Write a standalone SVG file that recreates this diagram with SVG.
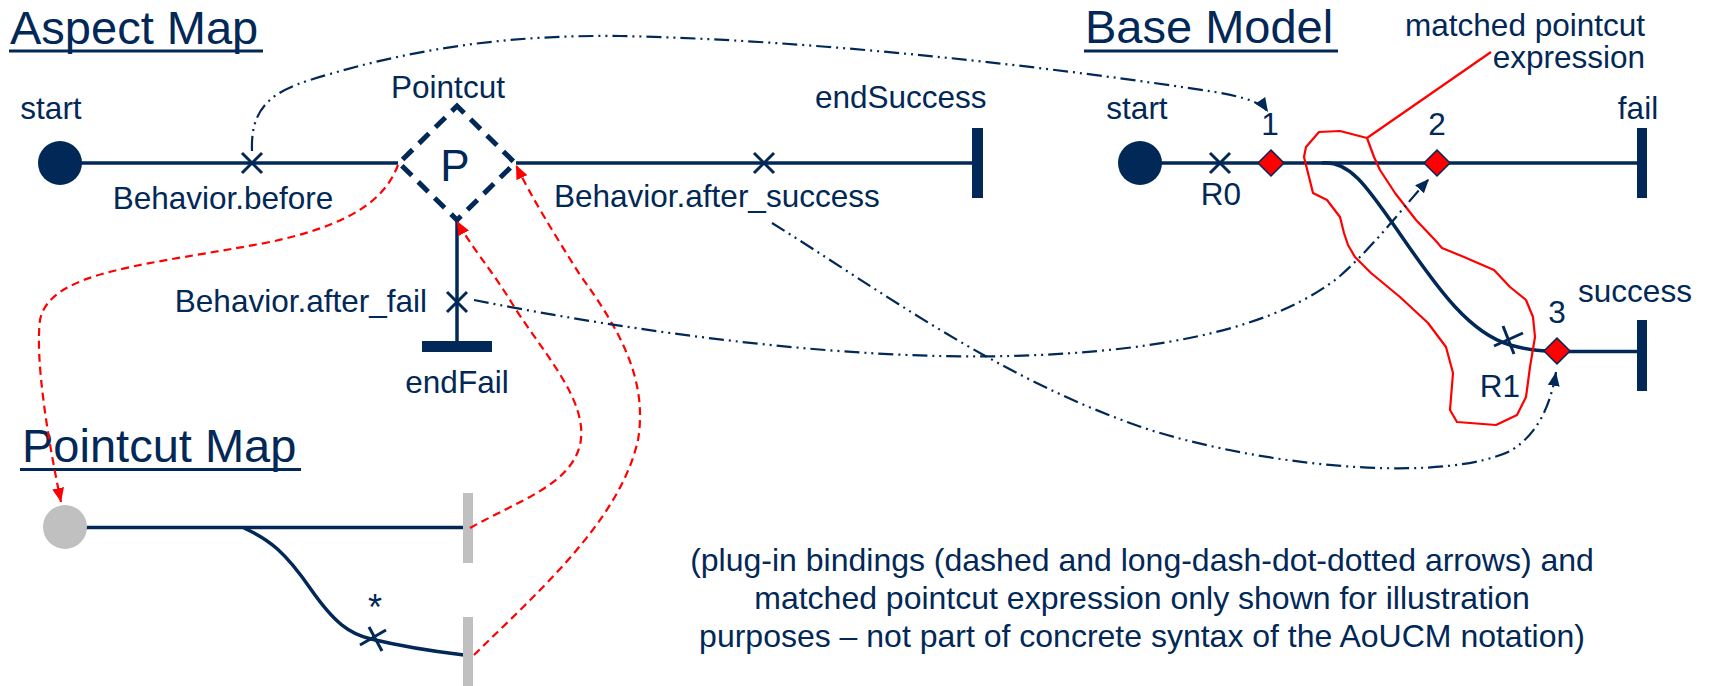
<svg xmlns="http://www.w3.org/2000/svg" width="1709" height="686" viewBox="0 0 1709 686">
  <style>
    text { font-family: "Liberation Sans", Arial, sans-serif; fill: #012856; }
    .lbl { font-size: 31.5px; }
    .title { font-size: 47px; }
    .note { font-size: 32px; }
    .mid { text-anchor: middle; }
    .end { text-anchor: end; }
    .path { fill: none; stroke: #012856; stroke-width: 3.5; }
    .xmark { fill: none; stroke: #012856; stroke-width: 3; }
    .bar { fill: #012856; }
    .gbar { fill: #c0c0c0; }
    .uline { fill: #012856; }
    .resp { fill: #ff0000; stroke: #012856; stroke-width: 1.5; }
    .bind { fill: none; stroke: #012856; stroke-width: 2.2; stroke-dasharray: 15 5 2 5 2 5; }
    .plug { fill: none; stroke: #ff0000; stroke-width: 2.2; stroke-dasharray: 8 5; }
  </style>
  <defs>
    <marker id="arrNavy" viewBox="0 0 14 12" refX="14" refY="6" markerWidth="14" markerHeight="12" markerUnits="userSpaceOnUse" orient="auto">
      <path d="M0,0 L14,6 L0,12 z" fill="#012856"/>
    </marker>
    <marker id="arrRed" viewBox="0 0 14 12" refX="14" refY="6" markerWidth="14" markerHeight="12" markerUnits="userSpaceOnUse" orient="auto">
      <path d="M0,0 L14,6 L0,12 z" fill="#ff0000"/>
    </marker>
  </defs>

  <!-- section titles -->
  <g id="titles">
    <text class="title" x="10" y="44">Aspect Map</text>
    <rect class="uline" x="9" y="49.5" width="254" height="3"/>
    <text class="title" x="1085" y="43">Base Model</text>
    <rect class="uline" x="1084" y="49.5" width="254" height="3"/>
    <text class="title" x="22" y="462">Pointcut Map</text>
    <rect class="uline" x="20" y="468" width="281" height="3"/>
  </g>

  <!-- ===== Aspect map ===== -->
  <g id="aspect-paths">
    <line class="path" x1="60" y1="163" x2="398" y2="163"/>
    <line class="path" x1="516" y1="163" x2="973" y2="163"/>
    <line class="path" x1="457" y1="221" x2="457" y2="342"/>
  </g>
  <g id="aspect-start">
    <circle cx="60" cy="163" r="22" fill="#012856"/>
    <text class="lbl mid" x="51" y="119">start</text>
  </g>
  <g id="aspect-before">
    <path class="xmark" d="M242,153 L262,173 M262,153 L242,173"/>
    <text class="lbl mid" x="223" y="209">Behavior.before</text>
  </g>
  <g id="aspect-pointcut">
    <path d="M457,106 L515,163 L457,220 L399,163 Z" fill="none" stroke="#012856" stroke-width="5" stroke-dasharray="14 9" stroke-dashoffset="4"/>
    <text x="455" y="181" class="mid" style="font-size:44px">P</text>
    <text class="lbl mid" x="448" y="98">Pointcut</text>
  </g>
  <g id="aspect-after-success">
    <path class="xmark" d="M754,153 L774,173 M774,153 L754,173"/>
    <text class="lbl" x="554" y="207">Behavior.after_success</text>
  </g>
  <g id="aspect-end-success">
    <rect class="bar" x="972" y="128" width="11" height="70"/>
    <text class="lbl" x="815" y="108">endSuccess</text>
  </g>
  <g id="aspect-after-fail">
    <path class="xmark" d="M447,292 L467,312 M467,292 L447,312"/>
    <text class="lbl end" x="427" y="312">Behavior.after_fail</text>
  </g>
  <g id="aspect-end-fail">
    <rect class="bar" x="422" y="341" width="70" height="11"/>
    <text class="lbl mid" x="457" y="393">endFail</text>
  </g>

  <!-- ===== Base model ===== -->
  <g id="base-paths">
    <line class="path" x1="1140" y1="163" x2="1638" y2="163"/>
    <path class="path" d="M1322,163 C1350,160 1368,188 1400,234 C1440,292 1470,333 1510,345 C1525,349 1535,351 1548,351"/>
    <line class="path" x1="1557" y1="351.5" x2="1638" y2="351.5"/>
  </g>
  <g id="base-start">
    <circle cx="1140" cy="163" r="22" fill="#012856"/>
    <text class="lbl mid" x="1137" y="119">start</text>
  </g>
  <g id="base-r0">
    <path class="xmark" d="M1210,153 L1230,173 M1230,153 L1210,173"/>
    <text class="lbl mid" x="1221" y="205">R0</text>
  </g>
  <g id="base-jp1">
    <path class="resp" d="M1271,150 L1284,163 L1271,176 L1258,163 Z"/>
    <text class="lbl mid" x="1270" y="135">1</text>
  </g>
  <g id="base-jp2">
    <path class="resp" d="M1437,150 L1450,163 L1437,176 L1424,163 Z"/>
    <text class="lbl mid" x="1437" y="135">2</text>
  </g>
  <g id="base-fail">
    <rect class="bar" x="1637" y="128" width="10" height="70"/>
    <text class="lbl mid" x="1638" y="119">fail</text>
  </g>
  <g id="base-r1">
    <path class="xmark" d="M1494,346 L1523,333 M1503,326 L1514,354"/>
    <text class="lbl mid" x="1500" y="397">R1</text>
  </g>
  <g id="base-jp3">
    <path class="resp" d="M1557,338 L1570,351 L1557,364 L1544,351 Z"/>
    <text class="lbl mid" x="1557" y="323">3</text>
  </g>
  <g id="base-success">
    <rect class="bar" x="1637" y="320" width="10" height="71"/>
    <text class="lbl mid" x="1635" y="302">success</text>
  </g>
  <g id="matched-expression">
    <path d="M1319,132 L1340,131 L1367,138 L1374,157 L1380,170 L1395,193 L1416,220 L1435,240 L1442,248 L1464,257 L1494,270 L1510,287 L1526,300 L1533,317 L1535,337 L1530,367 L1526,397 L1517,415 L1496,425 L1457,422 L1450,410 L1453,373 L1446,347 L1428,323 L1400,297 L1371,273 L1355,257 L1348,245 L1344,233 L1340,217 L1327,200 L1313,193 L1304,157 L1306,147 Z" fill="none" stroke="#ff0000" stroke-width="2.2" stroke-linejoin="round"/>
    <line x1="1367" y1="138" x2="1491" y2="52" stroke="#ff0000" stroke-width="2.2"/>
    <text class="lbl end" x="1645" y="36">matched pointcut</text>
    <text class="lbl end" x="1645" y="68">expression</text>
  </g>

  <!-- ===== Pointcut map ===== -->
  <g id="pc-paths">
    <line class="path" x1="65" y1="527.5" x2="464" y2="527.5"/>
    <path class="path" d="M244,528 C270,540 285,552 310,588 C335,624 350,634 371,639 C400,646 430,651 464,655"/>
  </g>
  <g id="pc-start">
    <circle cx="65" cy="527" r="22" fill="#c0c0c0"/>
  </g>
  <g id="pc-any">
    <path class="xmark" d="M360,645 L386,630 M369,627 L382,651"/>
    <text class="mid" x="375" y="620" style="font-size:36px">*</text>
  </g>
  <g id="pc-end1">
    <rect class="gbar" x="463" y="493" width="10" height="70"/>
  </g>
  <g id="pc-end2">
    <rect class="gbar" x="463" y="617" width="10" height="70"/>
  </g>

  <!-- ===== plug-in bindings ===== -->
  <g id="connectors">
    <path class="plug" marker-end="url(#arrRed)" d="M398,165 C385,200 350,225 270,242 C150,265 50,270 40,320 C35,360 48,440 61,502"/>
    <path class="plug" marker-end="url(#arrRed)" d="M470,528 C520,500 570,485 580,445 C590,400 540,350 510,300 C490,268 470,245 457,221"/>
    <path class="plug" marker-end="url(#arrRed)" d="M474,655 C540,590 620,520 638,440 C648,380 620,330 580,275 C555,235 530,195 516,165"/>
    <path class="bind" marker-end="url(#arrNavy)" d="M252,151 C250,100 280,88 330,74 C430,45 520,35 620,36 C820,40 1060,68 1215,92 C1245,97 1262,103 1268,112"/>
    <path class="bind" marker-end="url(#arrNavy)" d="M474,300 C650,335 850,360 1010,356 C1170,352 1280,325 1340,276 C1375,245 1405,205 1429,179"/>
    <path class="bind" marker-end="url(#arrNavy)" d="M772,223 C880,290 1000,380 1150,430 C1280,470 1450,482 1512,450 C1540,432 1551,402 1556,372"/>
  </g>

  <!-- footnote -->
  <g id="note">
    <text class="note mid" x="1142" y="571">(plug-in bindings (dashed and long-dash-dot-dotted arrows) and</text>
    <text class="note mid" x="1142" y="609">matched pointcut expression only shown for illustration</text>
    <text class="note mid" x="1142" y="647">purposes – not part of concrete syntax of the AoUCM notation)</text>
  </g>
</svg>
